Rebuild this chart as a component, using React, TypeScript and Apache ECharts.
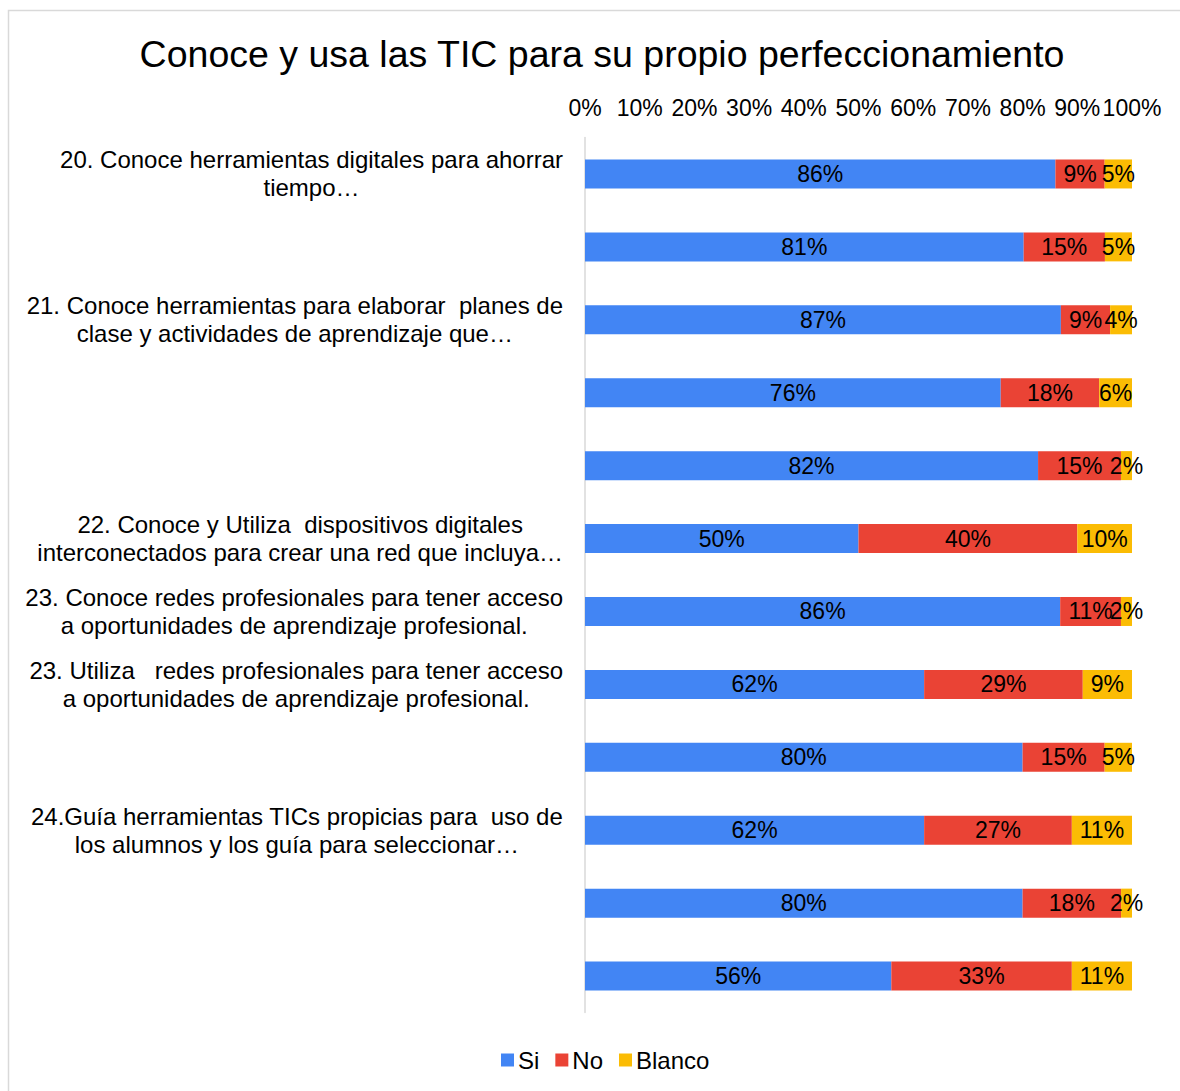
import React, { useEffect, useRef } from "react";
import * as echarts from "echarts";

const rowLabels: string[] = [
  "20. Conoce herramientas digitales para ahorrar\ntiempo…",
  "",
  "21. Conoce herramientas para elaborar  planes de\nclase y actividades de aprendizaje que…",
  "",
  "",
  "22. Conoce y Utiliza  dispositivos digitales\ninterconectados para crear una red que incluya…",
  "23. Conoce redes profesionales para tener acceso\na oportunidades de aprendizaje profesional.",
  "23. Utiliza   redes profesionales para tener acceso\na oportunidades de aprendizaje profesional.",
  "",
  "24.Guía herramientas TICs propicias para  uso de\nlos alumnos y los guía para seleccionar…",
  "",
  "",
];
const categories: string[] = rowLabels.map((_, i) => "r" + (i + 1));

const si: number[] = [86, 81, 87, 76, 82, 50, 86, 62, 80, 62, 80, 56];
const no: number[] = [9, 15, 9, 18, 15, 40, 11, 29, 15, 27, 18, 33];
const blanco: number[] = [5, 5, 4, 6, 2, 10, 2, 9, 5, 11, 2, 11];

const seriesNames = ["Si", "No", "Blanco"];
const colors = ["#4285F4", "#EA4335", "#FBBC04"];
const xTicks = ["0%", "10%", "20%", "30%", "40%", "50%", "60%", "70%", "80%", "90%", "100%"];

const FONT = "'Liberation Sans', Arial, sans-serif";

export default function App() {
  const ref = useRef<HTMLDivElement>(null);
  useEffect(() => {
    if (!ref.current) return;
    const chart = echarts.init(ref.current, undefined, { renderer: "svg" });
    const raw = [si, no, blanco];
    const totals = si.map((_, i) => si[i] + no[i] + blanco[i]);
    const series = raw.map((arr, s) => ({
      name: seriesNames[s],
      type: "bar",
      stack: "total",
      barWidth: 29,
      itemStyle: { color: colors[s] },
      label: {
        show: true,
        position: "inside",
        color: "#000",
        fontSize: 23,
        fontFamily: FONT,
        formatter: (p: any) => arr[p.dataIndex] + "%",
      },
      data: arr.map((v, i) => (v / totals[i]) * 100),
    }));
    chart.setOption({
      animation: false,
      textStyle: { fontFamily: FONT },
      graphic: [
        {
          type: "rect",
          shape: { x: 8.5, y: 10.5, width: 1200, height: 1100 },
          style: { fill: "none", stroke: "#d9d9d9", lineWidth: 1.5 },
          silent: true,
        },
      ],
      title: {
        text: "Conoce y usa las TIC para su propio perfeccionamiento",
        left: 597,
        textAlign: "center",
        top: 30,
        textStyle: { fontSize: 37.5, fontWeight: "normal", color: "#000", fontFamily: FONT },
      },
      legend: {
        bottom: 14,
        left: 496,
        icon: "rect",
        itemWidth: 13,
        itemHeight: 13,
        itemGap: 16,
        textStyle: { fontSize: 24, color: "#000", fontFamily: FONT, padding: [0, 0, 0, -1] },
        data: seriesNames,
      },
      grid: { left: 585, right: 48, top: 137.5, bottom: 78.5, containLabel: false },
      xAxis: {
        type: "value",
        position: "top",
        min: 0,
        max: 100,
        interval: 10,
        axisLine: { show: false },
        axisTick: { show: false },
        splitLine: { show: false },
        axisLabel: {
          margin: 18,
          fontSize: 23,
          color: "#000",
          fontFamily: FONT,
          formatter: (v: number) => xTicks[Math.round(v / 10)],
        },
      },
      yAxis: {
        type: "category",
        inverse: true,
        data: categories,
        axisLine: { show: true, lineStyle: { color: "#d9d9d9", width: 1.5 } },
        axisTick: { show: false },
        axisLabel: {
          interval: 0,
          margin: 22,
          fontSize: 24,
          lineHeight: 28,
          color: "#000",
          fontFamily: FONT,
          align: "right",
          formatter: (_v: string, idx: number) => {
            const t = rowLabels[idx];
            if (!t) return "";
            return t
              .split("\n")
              .map((l) => "{c|" + l + "}")
              .join("\n");
          },
          rich: {
            c: { align: "center", fontSize: 24, lineHeight: 28, color: "#000", fontFamily: FONT },
          },
        },
      },
      series,
    });
    return () => chart.dispose();
  }, []);
  return (
    <div
      ref={ref}
      style={{ position: "fixed", left: 0, top: 0, width: 1180, height: 1091, background: "#fff" }}
    />
  );
}
